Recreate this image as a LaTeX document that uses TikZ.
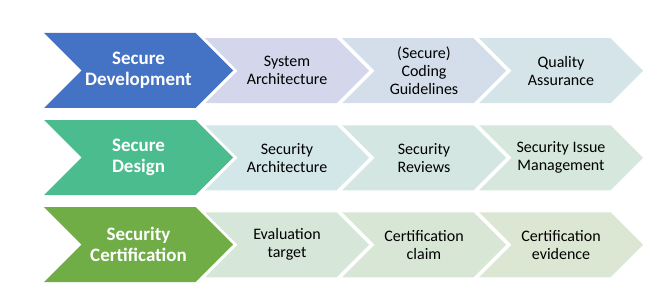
\documentclass[tikz,border=0pt]{standalone}
\usepackage{fontspec}
\setmainfont{Carlito}
\definecolor{bigA}{HTML}{4472C4}
\definecolor{bigB}{HTML}{4BBC8E}
\definecolor{bigC}{HTML}{70AD47}
\definecolor{sA1}{HTML}{D4D7EC}
\definecolor{sA2}{HTML}{D3DEEA}
\definecolor{sA3}{HTML}{D4E4E9}
\definecolor{sB1}{HTML}{D3E6E8}
\definecolor{sB2}{HTML}{D4E6E1}
\definecolor{sB3}{HTML}{D6E7DE}
\definecolor{sC1}{HTML}{D6E6D8}
\definecolor{sC2}{HTML}{D8E6D5}
\definecolor{sC3}{HTML}{DBE7D3}
% #1 left x, #2 centre y, #3 width (left to tip), #4 half height, #5 colour
\newcommand{\chevshape}[5]{%
  \fill[#5] (#1,#2-#4) -- (#1+#3-#4,#2-#4) -- (#1+#3,#2) -- (#1+#3-#4,#2+#4)
    -- (#1,#2+#4) -- (#1+#4,#2) -- cycle;}
\begin{document}
\begin{tikzpicture}[x={(1pt,0)},y={(0,-1pt)},
  bigtxt/.style={text=white,font=\bfseries\fontsize{19}{20.5}\selectfont,align=center,inner sep=0pt},
  smalltxt/.style={text=black,font=\fontsize{16}{18}\selectfont,align=center,inner sep=0pt}]
\useasboundingbox (0,0) rectangle (671,302);
% row 1
\chevshape{44}{70.5}{189}{37.5}{bigA}
\chevshape{205}{70.75}{164}{32.5}{sA1}
\chevshape{342}{70.75}{164}{32.5}{sA2}
\chevshape{479}{70.75}{164}{32.5}{sA3}
\node[bigtxt] (sdev) at (138.5,70.5) {Secure\\Development};
\node[smalltxt] (sysarch) at (287,70.75) {System\\Architecture};
\node[smalltxt] (coding) at (424,70.75) {(Secure)\\Coding\\Guidelines};
\node[smalltxt] (qa) at (561,70.75) {Quality\\Assurance};
% row 2
\chevshape{44}{157.5}{189}{37.5}{bigB}
\chevshape{205}{157.75}{164}{32.5}{sB1}
\chevshape{342}{157.75}{164}{32.5}{sB2}
\chevshape{479}{157.75}{164}{32.5}{sB3}
\node[bigtxt] (sdes) at (138.5,157.5) {Secure\\Design};
\node[smalltxt] (secarch) at (287,157.75) {Security\\Architecture};
\node[smalltxt] (secrev) at (424,157.75) {Security\\Reviews};
\node[smalltxt] (secissue) at (561,157.75) {Security Issue\\Management};
% row 3
\chevshape{44}{244.5}{189}{37.5}{bigC}
\chevshape{205}{244.75}{164}{32.5}{sC1}
\chevshape{342}{244.75}{164}{32.5}{sC2}
\chevshape{479}{244.75}{164}{32.5}{sC3}
\node[bigtxt] (scert) at (138.5,244.5) {Security\\Certification};
\node[smalltxt] (evtarget) at (287,244.75) {Evaluation\\target};
\node[smalltxt] (certclaim) at (424,244.75) {Certification\\claim};
\node[smalltxt] (certevid) at (561,244.75) {Certification\\evidence};
\end{tikzpicture}
\end{document}
